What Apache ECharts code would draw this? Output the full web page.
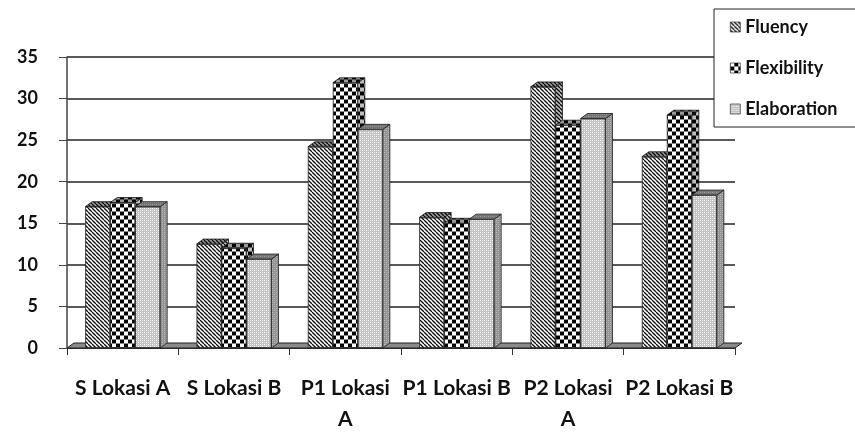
<!DOCTYPE html>
<html><head><meta charset="utf-8">
<script src="https://cdn.jsdelivr.net/npm/echarts@6/dist/echarts.min.js"></script>
<style>html,body{margin:0;padding:0;background:#fff}#c{width:855px;height:432px}</style>
</head><body><div id="c"></div>
<script>
const categories = ['S Lokasi A', 'S Lokasi B', 'P1 Lokasi\nA', 'P1 Lokasi B', 'P2 Lokasi\nA', 'P2 Lokasi B'];
const seriesNames = ['Fluency', 'Flexibility', 'Elaboration'];
const fluency = [17, 12.5, 24.2, 15.7, 31.4, 23];
const flexibility = [17.5, 12, 31.9, 15, 26.8, 28];
const elaboration = [17, 10.7, 26.3, 15.5, 27.6, 18.4];
const yMin = 0, yMax = 35, yInterval = 5;

const allValues = [fluency, flexibility, elaboration];

function tile(w, h, draw) {
  const c = document.createElement('canvas');
  c.width = w; c.height = h;
  draw(c.getContext('2d'));
  return { image: c, repeat: 'repeat' };
}
const patterns = [
  tile(4, 4, g => {
    g.fillStyle = '#fff'; g.fillRect(0, 0, 4, 4);
    g.strokeStyle = '#111'; g.lineWidth = 1.3;
    for (let o = -4; o <= 4; o += 4) { g.beginPath(); g.moveTo(o, 0); g.lineTo(o + 4, 4); g.stroke(); }
  }),
  tile(8, 8, g => {
    g.fillStyle = '#888'; g.fillRect(0, 0, 8, 8);
    g.fillStyle = '#fff'; g.fillRect(0, 0, 4, 3); g.fillRect(4, 4, 4, 3);
    g.fillStyle = '#000'; g.fillRect(4, 0, 4, 3); g.fillRect(0, 4, 4, 3);
  }),
  tile(4, 4, g => {
    g.fillStyle = '#c4c4c4'; g.fillRect(0, 0, 4, 4);
    g.fillStyle = '#fff'; g.fillRect(0, 0, 1, 1); g.fillRect(2, 2, 1, 1);
    g.fillStyle = '#e6e6e6'; g.fillRect(2, 0, 1, 1); g.fillRect(0, 2, 1, 1);
  })
];

const BW = 25, D = 7, DY = 5;
const FONT = 'Lato, "Open Sans", sans-serif';

const sideData = [];
allValues.forEach((arr, s) => arr.forEach((v, i) => sideData.push([i, v, s])));

const chart = echarts.init(document.getElementById('c'));
const barSeries = seriesNames.map((n, s) => ({
  name: n, type: 'bar', data: allValues[s], barWidth: BW, barGap: '0%', z: 5,
  itemStyle: { color: patterns[s], borderColor: '#222', borderWidth: 0.8 },
  emphasis: { disabled: true }, animation: false
}));

chart.setOption({
  animation: false,
  grid: { left: 67, right: 120, top: 57, bottom: 84, outerBoundsMode: 'none', containLabel: false },
  legend: {
    data: seriesNames, orient: 'vertical', left: 714, top: 9,
    itemGap: 23, itemWidth: 10, itemHeight: 10, itemTextGap: 8,
    padding: [9, 40, 9, 16], backgroundColor: '#fff', borderColor: '#222', borderWidth: 1,
    textStyle: { fontFamily: FONT, fontWeight: 'bold', fontSize: 18, color: '#111' },
    icon: 'rect', itemStyle: { borderColor: '#111', borderWidth: 0.6 }, z: 20
  },
  xAxis: {
    type: 'category', data: categories,
    axisLine: { lineStyle: { color: '#333', width: 1.2 } },
    axisTick: { show: true, length: 7, lineStyle: { color: '#333' } },
    axisLabel: { interval: 0, margin: 25, lineHeight: 31, fontFamily: FONT, fontWeight: 'bold', fontSize: 21, color: '#111' }
  },
  yAxis: {
    type: 'value', min: yMin, max: yMax, interval: yInterval,
    axisLine: { show: true, lineStyle: { color: '#444', width: 1.5 } },
    axisTick: { show: true, length: 8, lineStyle: { color: '#444' } },
    splitLine: { lineStyle: { color: '#222', width: 1.5 } },
    axisLabel: { margin: 29, fontFamily: FONT, fontWeight: 'bold', fontSize: 18, color: '#111' }
  },
  series: [
    {
      type: 'custom', name: 'floor', z: 1, data: [[0]], silent: true,
      renderItem: (params, api) => {
        const band = api.size([1, 0])[0];
        const l = api.coord([0, 0]), r = api.coord([categories.length - 1, 0]);
        const xL = l[0] - band / 2, xR = r[0] + band / 2, y = l[1];
        return { type: 'polygon', shape: { points: [[xL, y], [xR, y], [xR + D, y - DY], [xL + D, y - DY]] },
          style: { fill: '#8a8a8a', stroke: '#222', lineWidth: 1 } };
      }
    },
    {
      type: 'custom', name: 'depth', z: 2, data: sideData, silent: true,
      renderItem: (params, api) => {
        const i = api.value(0), v = api.value(1), s = api.value(2);
        const top = api.coord([i, v]), base = api.coord([i, 0]);
        const xc = top[0] + (s - 1) * BW, x0 = xc - BW / 2, x1 = xc + BW / 2;
        const yt = top[1], yb = base[1];
        const side = [[x1, yt], [x1 + D, yt - DY], [x1 + D, yb - DY], [x1, yb]];
        const cap = [[x0, yt], [x0 + D, yt - DY], [x1 + D, yt - DY], [x1, yt]];
        return { type: 'group', children: [
          { type: 'polygon', shape: { points: side }, style: { fill: patterns[s], stroke: '#222', lineWidth: 0.8 } },
          { type: 'polygon', shape: { points: side }, style: { fill: 'rgba(0,0,0,0.25)' } },
          { type: 'polygon', shape: { points: cap }, style: { fill: patterns[s], stroke: '#222', lineWidth: 0.8 } },
          { type: 'polygon', shape: { points: cap }, style: { fill: 'rgba(0,0,0,0.4)' } }
        ] };
      }
    }
  ].concat(barSeries)
});
</script></body></html>
